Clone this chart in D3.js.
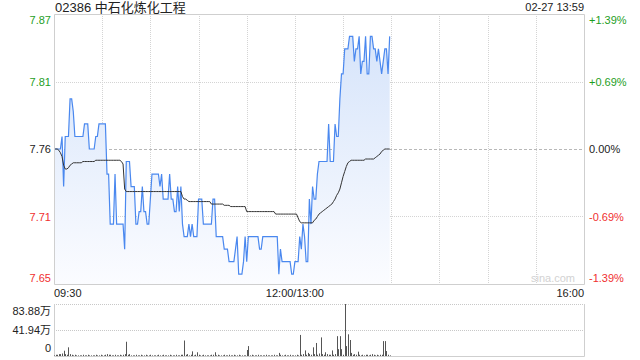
<!DOCTYPE html>
<html>
<head>
<meta charset="utf-8">
<script src="https://cdn.jsdelivr.net/npm/d3@7"></script>
<style>
  body { margin: 0; background: #fff; }
  svg { display: block; font-family: Arial, 'Liberation Sans', 'Noto Sans CJK SC', sans-serif; }
</style>
</head>
<body>
<svg id="chart" width="640" height="360"></svg>
<script>
const title = '02386 中石化炼化工程'
const stamp = '02-27 13:59'
const prevClose = 7.76

// one value per minute from 09:30 (index 0) to 13:59
const prices = [
  7.76, 7.76, 7.76, 7.76, 7.76, 7.77, 7.73, 7.77, 7.77, 7.77,
  7.80, 7.80, 7.79, 7.77, 7.77, 7.77, 7.77, 7.77, 7.77, 7.78,
  7.78, 7.78, 7.76, 7.76, 7.76, 7.76, 7.77, 7.77, 7.78, 7.78,
  7.78, 7.78, 7.78, 7.74, 7.74, 7.70, 7.70, 7.70, 7.74, 7.70,
  7.70, 7.70, 7.70, 7.70, 7.68, 7.75, 7.75, 7.75, 7.73, 7.73,
  7.73, 7.70, 7.70, 7.71, 7.71, 7.73, 7.71, 7.71, 7.70, 7.70,
  7.72, 7.74, 7.74, 7.74, 7.74, 7.74, 7.73, 7.74, 7.72, 7.72,
  7.72, 7.72, 7.74, 7.72, 7.72, 7.71, 7.71, 7.73, 7.71, 7.73,
  7.70, 7.69, 7.69, 7.69, 7.70, 7.69, 7.70, 7.69, 7.69, 7.69,
  7.72, 7.72, 7.72, 7.70, 7.70, 7.70, 7.70, 7.70, 7.70, 7.72,
  7.72, 7.69, 7.69, 7.69, 7.69, 7.69, 7.68, 7.68, 7.68, 7.67,
  7.67, 7.67, 7.67, 7.68, 7.69, 7.66, 7.66, 7.66, 7.67, 7.69,
  7.67, 7.69, 7.69, 7.69, 7.69, 7.69, 7.69, 7.69, 7.68, 7.68,
  7.69, 7.69, 7.69, 7.69, 7.69, 7.69, 7.69, 7.69, 7.69, 7.69,
  7.66, 7.68, 7.67, 7.67, 7.67, 7.67, 7.67, 7.67, 7.66, 7.66,
  7.67, 7.67, 7.67, 7.69, 7.68, 7.70, 7.69, 7.67, 7.67, 7.72,
  7.70, 7.73, 7.72, 7.72, 7.74, 7.75, 7.75, 7.75, 7.75, 7.75,
  7.75, 7.78, 7.75, 7.75, 7.75, 7.78, 7.77, 7.77, 7.80, 7.82,
  7.82, 7.84, 7.84, 7.84, 7.85, 7.85, 7.85, 7.83, 7.84, 7.84,
  7.85, 7.82, 7.83, 7.83, 7.85, 7.82, 7.82, 7.85, 7.85, 7.84,
  7.84, 7.83, 7.84, 7.83, 7.82, 7.83, 7.84, 7.84, 7.82, 7.85
]

const avgPrices = [
  7.760, 7.760, 7.760, 7.759, 7.757, 7.754, 7.747, 7.744, 7.744, 7.745,
  7.747, 7.748, 7.749, 7.749, 7.749, 7.749, 7.749, 7.749, 7.750, 7.750,
  7.750, 7.750, 7.750, 7.750, 7.750, 7.750, 7.751, 7.751, 7.751, 7.751,
  7.751, 7.751, 7.751, 7.751, 7.751, 7.751, 7.751, 7.751, 7.751, 7.751,
  7.751, 7.751, 7.750, 7.748, 7.728, 7.726, 7.726, 7.726, 7.726, 7.726,
  7.726, 7.726, 7.726, 7.726, 7.726, 7.726, 7.726, 7.726, 7.726, 7.726,
  7.726, 7.726, 7.726, 7.726, 7.726, 7.726, 7.726, 7.726, 7.726, 7.726,
  7.726, 7.726, 7.726, 7.726, 7.726, 7.726, 7.726, 7.726, 7.726, 7.726,
  7.722, 7.720, 7.720, 7.719, 7.718, 7.718, 7.718, 7.718, 7.718, 7.718,
  7.718, 7.718, 7.718, 7.718, 7.718, 7.718, 7.718, 7.718, 7.716, 7.716,
  7.716, 7.716, 7.716, 7.716, 7.716, 7.716, 7.715, 7.715, 7.715, 7.715,
  7.714, 7.714, 7.714, 7.714, 7.714, 7.714, 7.714, 7.714, 7.714, 7.714,
  7.710, 7.710, 7.710, 7.710, 7.710, 7.710, 7.710, 7.710, 7.710, 7.710,
  7.710, 7.710, 7.710, 7.710, 7.710, 7.710, 7.710, 7.710, 7.708, 7.708,
  7.708, 7.708, 7.708, 7.708, 7.708, 7.708, 7.708, 7.708, 7.708, 7.708,
  7.708, 7.708, 7.705, 7.702, 7.701, 7.701, 7.701, 7.701, 7.701, 7.701,
  7.701, 7.701, 7.703, 7.704, 7.706, 7.708, 7.709, 7.710, 7.711, 7.712,
  7.713, 7.714, 7.715, 7.716, 7.718, 7.720, 7.723, 7.725, 7.728, 7.733,
  7.738, 7.742, 7.746, 7.749, 7.750, 7.751, 7.751, 7.751, 7.751, 7.751,
  7.751, 7.751, 7.751, 7.751, 7.752, 7.752, 7.752, 7.752, 7.752, 7.752,
  7.753, 7.754, 7.755, 7.756, 7.758, 7.759, 7.760, 7.760, 7.760, 7.760
]

// volume per minute, in 万 shares
const volumes = [
  1, 2, 2, 3, 3, 4, 8.5, 3, 2, 14,
  3, 2, 1, 2, 1, 1, 1, 1, 2, 1,
  1, 2, 1, 1, 1, 1, 2, 1, 1, 2,
  1, 1, 2, 3, 2, 2, 1, 1, 2, 1,
  1, 2, 1, 2, 3, 23, 2, 3, 1, 1,
  1, 2, 1, 1, 2, 1, 1, 2, 1, 1,
  2, 1, 1, 1, 1, 2, 1, 1, 2, 1,
  1, 1, 2, 1, 1, 1, 2, 1, 1, 2,
  2, 25, 2, 3, 1, 2, 7.5, 1, 2, 6,
  2, 1, 1, 2, 1, 1, 1, 1, 2, 2,
  6, 1, 2, 1, 1, 1, 2, 1, 1, 2,
  1, 1, 2, 1, 1, 2, 1, 1, 1, 1,
  9.7, 16, 1, 2, 1, 1, 1, 2, 1, 1,
  1, 1, 2, 1, 1, 1, 1, 2, 1, 1,
  5, 2, 1, 1, 2, 1, 1, 2, 1, 1,
  1, 2, 1, 34, 2, 3, 9, 2, 5, 3,
  2, 14, 3, 21, 2, 4, 30, 3, 2, 6,
  3, 2, 2, 9, 2, 3, 32, 11, 32, 11,
  2, 83.88, 16, 35, 25.8, 5, 2, 3, 2, 7,
  2, 1, 2, 1, 2, 2, 1, 2, 3, 2,
  1, 2, 1, 2, 2, 24, 24, 8, 2, 1
]

const pctTicks = [1.39, 0.695, 0, -0.695, -1.39]
const priceLabels = ['7.87', '7.81', '7.76', '7.71', '7.65']
const pctLabels = ['+1.39%', '+0.69%', '0.00%', '-0.69%', '-1.39%']
const timeTickMinutes = [0, 150, 330]
const timeLabels = ['09:30', '12:00/13:00', '16:00']
const gridMinutes = [30, 60, 90, 120, 150, 180, 210, 240, 270, 300]
const volTicks = [0, 41.94, 83.88]
const volLabels = ['0', '41.94万', '83.88万']

const plotL = 54, plotR = 584, plotT = 14, plotB = 284
const volT = 304, volB = 356
const green = '#1e9e1e', red = '#f03030', border = '#cfcfcf'

const svg = d3.select('#chart')

const x = d3.scaleLinear().domain([0, 330]).range([plotL, plotR])
const y = d3.scaleLinear()
  .domain([prevClose * (1 - 0.0139), prevClose * (1 + 0.0139)])
  .range([plotB, plotT])
const yVol = d3.scaleLinear().domain([0, 83.88]).range([volB, volT])
const tickPrice = p => prevClose * (1 + p / 100)

const grad = svg.append('defs').append('linearGradient')
  .attr('id', 'fillGrad')
  .attr('gradientUnits', 'userSpaceOnUse')
  .attr('x1', 0).attr('x2', 0).attr('y1', plotT).attr('y2', plotB)
grad.append('stop').attr('offset', 0).attr('stop-color', '#d3e2fa')
grad.append('stop').attr('offset', 1).attr('stop-color', '#fbfcff')

// grid
const grid = svg.append('g')
grid.selectAll('line.v')
  .data(gridMinutes)
  .enter()
  .append('line')
  .attr('x1', d => Math.round(x(d)) + 0.5).attr('x2', d => Math.round(x(d)) + 0.5)
  .attr('y1', plotT).attr('y2', plotB)
  .attr('stroke', '#d4d4d4').attr('stroke-dasharray', '1,1')

grid.selectAll('line.h')
  .data(pctTicks.slice(1, 4))
  .enter()
  .append('line')
  .attr('x1', plotL).attr('x2', plotR)
  .attr('y1', d => Math.round(y(tickPrice(d))) + 0.5)
  .attr('y2', d => Math.round(y(tickPrice(d))) + 0.5)
  .attr('stroke', d => d === 0 ? '#b8b8b8' : '#d4d4d4')
  .attr('stroke-dasharray', d => d === 0 ? '3,2' : '1,1')

// price area + line
const pts = prices.map((p, i) => [i, p])
svg.append('path')
  .datum(pts)
  .attr('fill', 'url(#fillGrad)')
  .attr('d', d3.area().x(d => x(d[0])).y0(plotB).y1(d => y(d[1])))

svg.append('path')
  .datum(pts)
  .attr('fill', 'none')
  .attr('stroke', '#4a88ef')
  .attr('stroke-width', 1.2)
  .attr('d', d3.line().x(d => x(d[0])).y(d => y(d[1])))

svg.append('path')
  .datum(avgPrices.map((p, i) => [i, p]))
  .attr('fill', 'none')
  .attr('stroke', '#333')
  .attr('stroke-width', 1)
  .attr('d', d3.line().x(d => x(d[0])).y(d => y(d[1])))

// frame
svg.append('path')
  .attr('fill', 'none').attr('stroke', border)
  .attr('d', `M${plotL + 0.5},${plotT + 0.5}H${plotR + 0.5}V${plotB + 0.5}H${plotL + 0.5}Z`)

svg.append('text')
  .attr('x', 553).attr('y', 282)
  .attr('font-size', 11).attr('fill', '#d2d2d2').attr('text-anchor', 'middle')
  .text('sina.com')

// axes labels
const colorFor = d => d > 0 ? green : d < 0 ? red : '#222'
const nudge = (d, i) => i === 0 ? 6 : i === pctTicks.length - 1 ? -6 : 0

const leftAxis = svg.append('g')
  .attr('transform', `translate(${plotL},0)`)
  .call(d3.axisLeft(y).tickValues(pctTicks.map(tickPrice))
    .tickFormat((d, i) => priceLabels[i]).tickSize(0).tickPadding(3))
leftAxis.select('.domain').remove()
leftAxis.attr('font-family', null)
leftAxis.selectAll('text')
  .attr('font-size', 11)
  .attr('fill', (d, i) => colorFor(pctTicks[i]))
  .attr('y', nudge)

const rightAxis = svg.append('g')
  .attr('transform', `translate(${plotR},0)`)
  .call(d3.axisRight(y).tickValues(pctTicks.map(tickPrice))
    .tickFormat((d, i) => pctLabels[i]).tickSize(0).tickPadding(5))
rightAxis.select('.domain').remove()
rightAxis.attr('font-family', null)
rightAxis.selectAll('text')
  .attr('font-size', 11)
  .attr('fill', (d, i) => colorFor(pctTicks[i]))
  .attr('y', nudge)

svg.selectAll('text.time')
  .data(timeTickMinutes)
  .enter()
  .append('text')
  .attr('x', d => x(d))
  .attr('y', 297)
  .attr('font-size', 11).attr('fill', '#222')
  .attr('text-anchor', (d, i) => i === 0 ? 'start' : i === timeTickMinutes.length - 1 ? 'end' : 'middle')
  .text((d, i) => timeLabels[i])

svg.append('text').attr('x', plotL + 1).attr('y', 12)
  .attr('font-size', 13).attr('fill', '#222').text(title)
svg.append('text').attr('x', plotR).attr('y', 11)
  .attr('font-size', 11).attr('fill', '#222').attr('text-anchor', 'end').text(stamp)

// volume panel
svg.selectAll('line.vg')
  .data(volTicks.slice(1))
  .enter()
  .append('line')
  .attr('x1', plotL).attr('x2', plotR)
  .attr('y1', d => Math.round(yVol(d)) + 0.5).attr('y2', d => Math.round(yVol(d)) + 0.5)
  .attr('stroke', '#c8c8c8').attr('stroke-dasharray', '1,1')

svg.append('path')
  .attr('fill', 'none').attr('stroke', border)
  .attr('d', `M${plotL + 0.5},${volT}V${volB + 0.5}H${plotR + 0.5}V${volT}`)

svg.selectAll('line.bar')
  .data(volumes)
  .enter()
  .append('line')
  .attr('x1', (d, i) => Math.round(x(i)) + 0.5).attr('x2', (d, i) => Math.round(x(i)) + 0.5)
  .attr('y1', volB).attr('y2', d => yVol(d))
  .attr('stroke', '#555').attr('stroke-width', 1)

svg.selectAll('text.vol')
  .data(volTicks)
  .enter()
  .append('text')
  .attr('x', plotL - 3)
  .attr('y', (d, i) => yVol(d) + [-4, 4, 11][i])
  .attr('font-size', 11).attr('fill', '#222').attr('text-anchor', 'end')
  .text((d, i) => volLabels[i])
</script>
</body>
</html>
